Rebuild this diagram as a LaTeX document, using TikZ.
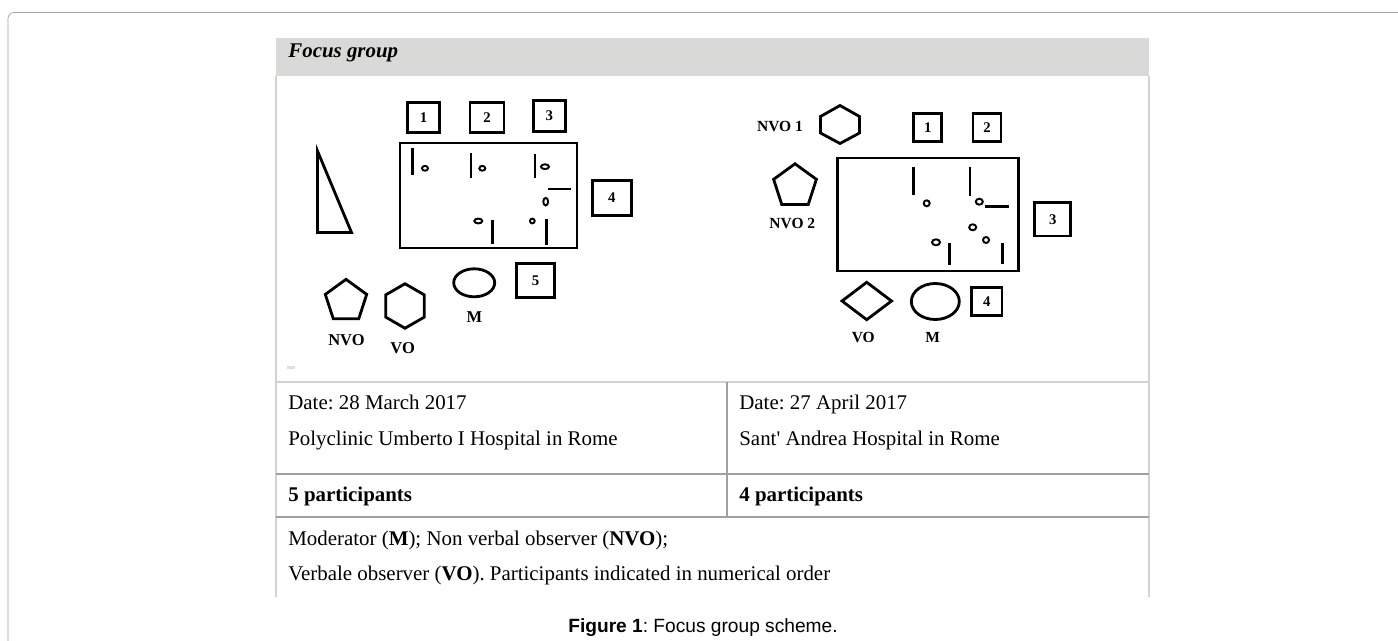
\documentclass[tikz,border=0pt]{standalone}
\usepackage{fontspec}
\setmainfont{Liberation Serif}[Ligatures=TeXOff]
\setsansfont{Liberation Sans}
\frenchspacing
\usetikzlibrary{shapes.geometric,positioning,calc}
\definecolor{hdrgray}{HTML}{D9D9D7}
\definecolor{rulegray}{HTML}{A0A0A0}
\definecolor{cellgray}{HTML}{D2D2D2}
\definecolor{framegray}{HTML}{A3A3A3}
\tikzset{
    numbox/.style={draw, line width=1.6pt, inner sep=0pt, font=\bfseries\fontsize{8.4}{10}\selectfont},
    shp/.style={draw, line width=1.6pt, inner sep=0pt},
    seatbar/.style={line width=1.6pt},
    person/.style={line width=1.1pt},
    lblbig/.style={inner sep=0pt, font=\bfseries\fontsize{9.4}{11}\selectfont},
    lblsmall/.style={inner sep=0pt, font=\bfseries\fontsize{8.8}{10}\selectfont},
    celltext/.style={anchor=base west, inner sep=0pt, font=\fontsize{11.9}{14}\selectfont}
}
\newcommand{\numsq}[5]{
    \node[numbox, minimum width=#4, minimum height=#5] (#1) at (#2) {#3};
}
\newcommand{\guest}[3]{
    \draw[person] (#1) ellipse [x radius=#2, y radius=#3];
}

\begin{document}
\begin{tikzpicture}[x=0.02cm, y=-0.02cm]
    \useasboundingbox (0,0) rectangle (1398,641);
    \draw[framegray, rounded corners=0.12cm] (8,641) -- (8,12.5) -- (1398,12.5);
    \fill[hdrgray] (276,38) rectangle (1149,76);
    \node[celltext, font=\bfseries\itshape\fontsize{11.9}{14}\selectfont] (hdr) at (288,57.5) {Focus group};
    \draw[cellgray, line width=0.6pt]
    (276,76) -- (276,597) (1149,76) -- (1149,597)
    (276,382) -- (1149,382);
    \draw[rulegray, line width=1.1pt]
    (727,382) -- (727,517)
    (276,474) -- (1149,474) (276,517) -- (1149,517);
    \fill[gray!25] (287,366.5) rectangle (295,369.5);
    \begin{scope}
        \draw[shp] (400,143) rectangle (577,248);
        \draw[shp] (317.5,151) -- (317.5,232.5) -- (351.5,232.5) -- cycle;
        \numsq{p1}{423.5,117.5}{1}{0.64cm}{0.60cm}
        \numsq{p2}{487,117.5}{2}{0.68cm}{0.60cm}
        \numsq{p3}{549.3,116}{3}{0.64cm}{0.62cm}
        \numsq{p4}{611.7,198}{4}{0.78cm}{0.69cm}
        \numsq{p5}{535.5,280.5}{5}{0.76cm}{0.69cm}
        \draw[seatbar]
        (412.3,148.3) -- (412.3,175) (471,153.3) -- (471,177.7)
        (535,154) -- (535,178.3) (548.3,189) -- (571,189)
        (492.3,220) -- (492.3,244) (546.3,219.3) -- (546.3,245);
        \guest{425,168.3}{3}{2.4}
        \guest{482.3,168.3}{3}{2.4}
        \guest{545,166.7}{4}{2.4}
        \guest{545.7,201.7}{2.4}{3.8}
        \guest{478.3,221}{4}{2.4}
        \guest{532.3,221}{2.4}{2.4}
        \node[shp, regular polygon, regular polygon sides=5, minimum size=0.87cm] (nvoA) at (346,301.1) {};
        \node[shp, regular polygon, regular polygon sides=6, shape border rotate=30, minimum size=0.89cm] (voA) at (405,306) {};
        \node[shp, ellipse, minimum width=0.82cm, minimum height=0.56cm] (mA) at (474.2,282.8) {};
        \node[lblbig] (nvoAl) at (346.5,340) {NVO};
        \node[lblbig] (voAl) at (402.7,348) {VO};
        \node[lblbig] (mAl) at (474.3,317.5) {M};
    \end{scope}
    \begin{scope}
        \draw[shp] (837.5,158) rectangle (1018.5,271);
        \numsq{q1}{927.8,127.8}{1}{0.56cm}{0.56cm}
        \numsq{q2}{987,127.8}{2}{0.56cm}{0.56cm}
        \numsq{q3}{1052.8,219.3}{3}{0.72cm}{0.67cm}
        \numsq{q4}{986.7,301.2}{4}{0.61cm}{0.56cm}
        \draw[seatbar]
        (913.3,167.3) -- (913.3,195) (970,167.3) -- (970,196)
        (985,206.7) -- (1009.3,206.7)
        (949.3,243.3) -- (949.3,265) (1002.3,243.3) -- (1002.3,264);
        \guest{926.7,203.3}{3}{3}
        \guest{979.3,201.7}{3.5}{3}
        \guest{972.7,227.3}{3.5}{3}
        \guest{986,240}{3}{3}
        \guest{936,242.3}{4}{3}
        \draw[shp] (840,105.5) -- (859.5,116.5) -- (859.5,133) -- (840,143.5)
        -- (820.5,133) -- (820.5,116.5) -- cycle;
        \node[shp, regular polygon, regular polygon sides=5, minimum size=0.9cm] (nvoB) at (795,186.3) {};
        \draw[shp] (842,301) -- (866.7,282.3) -- (891.5,301) -- (866.7,319.7) -- cycle;
        \node[shp, ellipse, minimum width=0.96cm, minimum height=0.72cm] (mB) at (935.3,301.5) {};
        \node[lblsmall] (nvoBl) at (780,126.7) {NVO 1};
        \node[lblsmall] (nvoCl) at (792.3,223.3) {NVO 2};
        \node[lblsmall] (voBl) at (863.3,337.5) {VO};
        \node[lblsmall] (mBl) at (932.7,337.5) {M};
    \end{scope}
    \node[celltext] (dateA) at (288,409) {Date: 28 March 2017};
    \node[celltext] (placeA) at (288,445) {Polyclinic Umberto I Hospital in Rome};
    \node[celltext] (dateB) at (739,409) {Date: 27 April 2017};
    \node[celltext] (placeB) at (739,445) {Sant' Andrea Hospital in Rome};
    \node[celltext, font=\bfseries\fontsize{11.9}{14}\selectfont] (nA) at (288,501) {5 participants};
    \node[celltext, font=\bfseries\fontsize{11.9}{14}\selectfont] (nB) at (739,501) {4 participants};
    \node[celltext] (keyA) at (288,545) {Moderator (\textbf{M}); Non verbal observer (\textbf{NVO});};
    \node[celltext] (keyB) at (288,580) {Verbale observer (\textbf{VO}). Participants indicated in numerical order};
    \node[anchor=base west, inner sep=0pt, font=\sffamily\fontsize{10.9}{13}\selectfont] (cap) at (568,632) {\textbf{Figure 1}: Focus group scheme.};
\end{tikzpicture}
\end{document}
